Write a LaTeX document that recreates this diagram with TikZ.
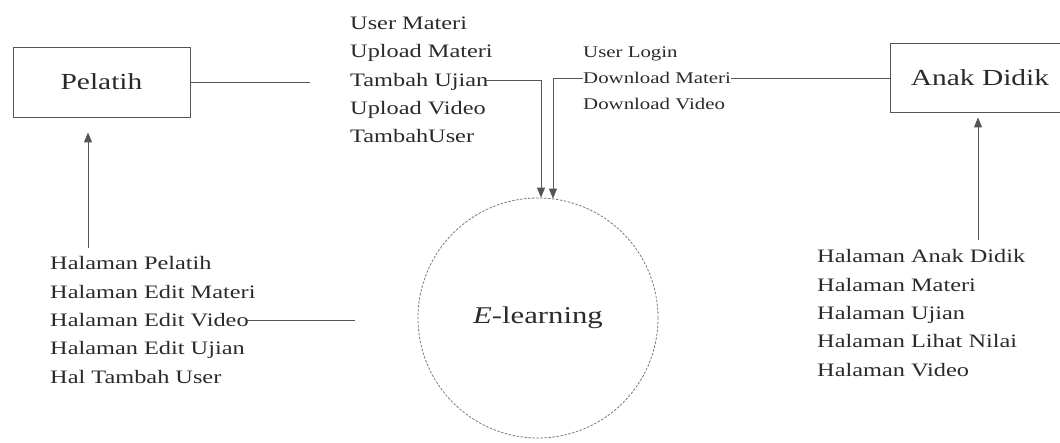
\documentclass[tikz,border=0pt]{standalone}
\usepackage{fontspec}
\setmainfont{Liberation Serif}[FakeStretch=1.28]
\usetikzlibrary{arrows.meta}
\definecolor{ink}{HTML}{2A2A2A}
\definecolor{wire}{HTML}{555555}
\definecolor{rim}{HTML}{7A7A7A}
\begin{document}
\begin{tikzpicture}[x=1pt,y=-1pt,
  entity/.style={draw=wire, line width=0.9pt, inner sep=0pt, text=ink,
    font=\fontsize{23}{27}\selectfont},
  flowlist/.style={inner sep=0pt, anchor=west, align=left, text=ink,
    font=\fontsize{19}{28.3}\selectfont},
  smalllist/.style={flowlist, font=\fontsize{16.3}{26}\selectfont},
  wireline/.style={draw=wire, line width=0.9pt},
  flow/.style={wireline, -{Triangle[length=10pt,width=8pt]}},
  process/.style={circle, draw=rim, dash pattern=on 2.5pt off 1.5pt,
    line width=0.8pt, minimum size=240pt, inner sep=0pt, text=ink,
    font=\fontsize{24}{28}\selectfont}
]
\useasboundingbox (0,0) rectangle (1060,443);

% external entities and the process
\node[entity, minimum width=177pt, minimum height=70pt] (pelatih) at (101.5,82) {Pelatih};
\node[entity, minimum width=180pt, minimum height=69pt] (anak) at (980,77.5) {Anak Didik};
\node[process] (elearn) at (538,318) {\textit{E}-learning};

% data flow labels
\node[flowlist] (masuk) at (350,80)
  {User Materi\\Upload Materi\\Tambah Ujian\\Upload Video\\TambahUser};
\node[smalllist] (unduh) at (583,78)
  {User Login\\Download Materi\\Download Video};
\node[flowlist] (halP) at (50,320)
  {Halaman Pelatih\\Halaman Edit Materi\\Halaman Edit Video\\Halaman Edit Ujian\\Hal Tambah User};
\node[flowlist] (halA) at (817,313)
  {Halaman Anak Didik\\Halaman Materi\\Halaman Ujian\\Halaman Lihat Nilai\\Halaman Video};

% free ends of the connectors
\coordinate (inL) at ([xshift=3pt]elearn.north);
\coordinate (inR) at ([xshift=15pt,yshift=-1pt]elearn.north);
\coordinate (pelatihEnd) at (310,82);
\coordinate (halPEnd) at (355,320);
\coordinate (pFoot) at (88,248);
\coordinate (aFoot) at (978,240);

% connectors (the middle label line sets where each flow leaves its list)
\draw[wireline] (pelatih.east) -- (pelatih.east -| pelatihEnd);
\draw[flow] ([xshift=-7pt]masuk.east) -| (inL);
\draw[flow] (unduh.west) -| (inR);
\draw[wireline] (unduh.east) -- (unduh.east -| anak.west);
\draw[wireline] ([xshift=-9pt]halP.east) -- (halP.east -| halPEnd);
\draw[flow, shorten >=15pt] (pFoot) -- (pFoot |- pelatih.south);
\draw[flow, shorten >=5pt] (aFoot) -- (aFoot |- anak.south);
\end{tikzpicture}
\end{document}
